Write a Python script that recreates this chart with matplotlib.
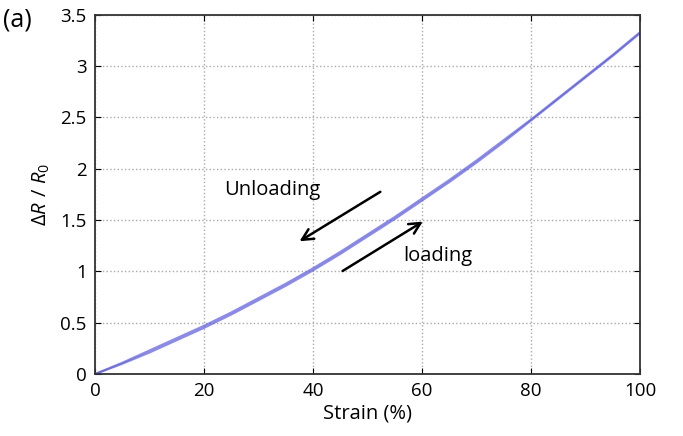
import matplotlib.pyplot as plt

plt.rcParams['font.family'] = ['Open Sans', 'DejaVu Sans']
plt.rcParams['mathtext.fontset'] = 'custom'
plt.rcParams['mathtext.rm'] = 'Open Sans'
plt.rcParams['mathtext.it'] = 'Open Sans:italic'

# data
strain = [0, 5, 10, 15, 20, 25, 30, 35, 40, 45, 50, 55, 60, 65, 70, 75, 80, 85, 90, 95, 100]
loading = [0, 0.10, 0.21, 0.33, 0.45, 0.58, 0.72, 0.86, 1.01, 1.17, 1.34, 1.51, 1.69, 1.87, 2.06, 2.26, 2.47, 2.68, 2.89, 3.10, 3.32]
unloading = [0, 0.11, 0.23, 0.35, 0.47, 0.60, 0.74, 0.88, 1.03, 1.19, 1.36, 1.53, 1.71, 1.89, 2.08, 2.28, 2.48, 2.69, 2.90, 3.11, 3.33]
xticks = [0, 20, 40, 60, 80, 100]
yticks = [0, 0.5, 1, 1.5, 2, 2.5, 3, 3.5]
yticklabels = ['0', '0.5', '1', '1.5', '2', '2.5', '3', '3.5']

fig = plt.figure(figsize=(6.83, 4.36), dpi=100)
ax = fig.add_axes([0.139, 0.142, 0.798, 0.824])

ax.plot(strain, loading, color='#5a5ae8', lw=1.5, alpha=0.7)
ax.plot(strain, unloading, color='#5a5ae8', lw=1.5, alpha=0.7)

ax.set_xlim(0, 100)
ax.set_ylim(0, 3.5)
ax.set_xticks(xticks)
ax.set_yticks(yticks)
ax.set_yticklabels(yticklabels)
ax.tick_params(direction='in', top=True, right=True, labelsize=13.5, length=4, pad=6)
ax.grid(True, color='#aaaaaa', linestyle=':', lw=1)
for s in ax.spines.values():
    s.set_linewidth(1.3)
    s.set_color('#333333')

ax.set_xlabel('Strain (%)', fontsize=14.5, labelpad=2)
ax.set_ylabel(r'$\Delta R\ /\ R_0$', fontsize=14.5, labelpad=6)

# arrows and labels
ax.annotate('', xy=(37.1, 1.28), xytext=(52.8, 1.79),
            arrowprops=dict(arrowstyle='->', lw=1.8, color='black', mutation_scale=20))
ax.annotate('', xy=(60.6, 1.50), xytext=(45, 0.99),
            arrowprops=dict(arrowstyle='->', lw=1.8, color='black', mutation_scale=20))
ax.text(32.5, 1.79, 'Unloading', fontsize=14.5, ha='center', va='center')
ax.text(63, 1.15, 'loading', fontsize=14.5, ha='center', va='center')

fig.text(0.005, 0.955, '(a)', fontsize=18, ha='left', va='center')

fig.savefig('out.png', dpi=100)
